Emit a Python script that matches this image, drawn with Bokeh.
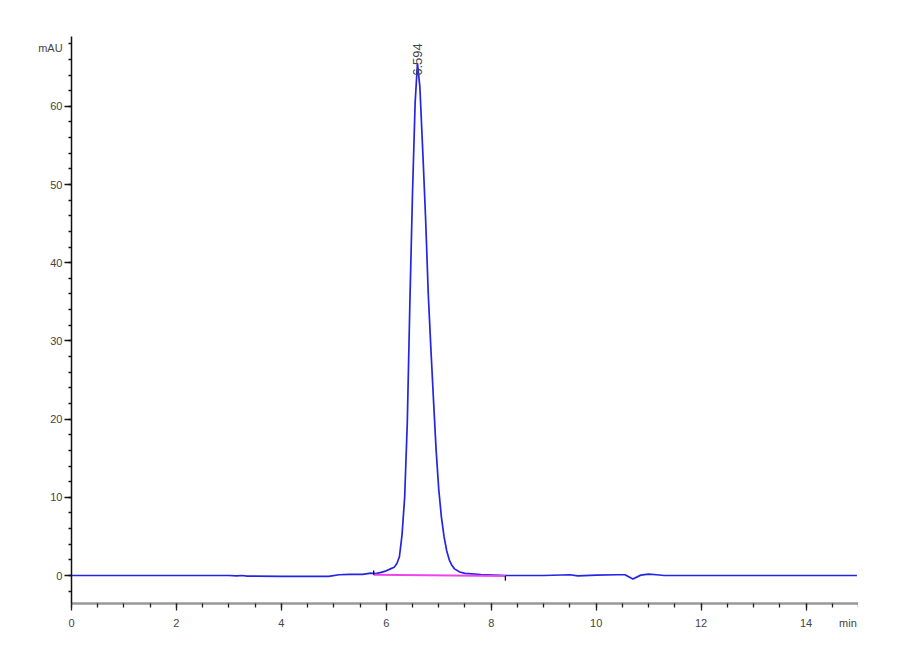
import math
from bokeh.plotting import figure
from bokeh.models import Range1d, SingleIntervalTicker, Label
from bokeh.embed import file_html
from bokeh.resources import INLINE

# chromatogram trace (time in min, signal in mAU)
time_min = [0.0, 1.0, 2.0, 3.0, 3.15, 3.25, 3.35, 4.0, 4.9, 5.1, 5.3, 5.55, 5.7,
            5.8, 5.9, 6.0, 6.08, 6.15, 6.2, 6.25, 6.3, 6.35, 6.4, 6.45, 6.5, 6.55,
            6.594, 6.64, 6.7, 6.75, 6.8, 6.85, 6.9, 6.95, 7.0, 7.05, 7.1, 7.15,
            7.2, 7.25, 7.3, 7.4, 7.5, 7.8, 8.3, 9.0, 9.5, 9.65, 10.0, 10.4, 10.55,
            10.7, 10.85, 11.0, 11.15, 11.3, 12.0, 13.0, 14.0, 14.97]
signal_mau = [0.0, 0.0, 0.0, 0.0, -0.05, 0.0, -0.08, -0.1, -0.12, 0.1, 0.15, 0.15, 0.3,
              0.25, 0.4, 0.6, 0.85, 1.05, 1.5, 2.4, 5.2, 10.0, 19.5, 35.0, 49.0, 60.5,
              65.5, 62.5, 53.5, 45.5, 36.0, 29.0, 22.4, 16.0, 11.0, 7.5, 5.0, 3.2,
              2.0, 1.3, 0.85, 0.45, 0.28, 0.13, 0.0, 0.0, 0.1, -0.05, 0.05, 0.1, 0.1,
              -0.45, 0.05, 0.18, 0.1, 0.0, 0.0, 0.0, 0.0, 0.0]

# integration baseline of the peak
baseline_t = [5.76, 8.27]
baseline_y = [0.1, -0.05]

peak_rt = 6.594
peak_label = "6.594"

x_axis_start, x_axis_end = 0.0, 15.0
y_axis_start, y_axis_end = -3.58, 68.9
x_ticks_interval = 2
y_ticks_interval = 10

p = figure(frame_width=858, frame_height=640, min_border=0,
           x_range=Range1d(-1.353, 15.0), y_range=Range1d(-8.31, 73.53),
           output_backend="svg", toolbar_location=None,
           background_fill_color="white", border_fill_color="white")
p.outline_line_color = None
p.xgrid.visible = False
p.ygrid.visible = False

p.line(time_min, signal_mau, line_color="#2424e4", line_width=1.7)
p.line(baseline_t, baseline_y, line_color="#ee44ee", line_width=2)

# peak start/end markers
p.segment(x0=[baseline_t[0]], y0=[baseline_y[0]], x1=[baseline_t[0]],
          y1=[baseline_y[0] + 0.55], line_color="black", line_width=1.3)
p.segment(x0=[baseline_t[1]], y0=[baseline_y[1]], x1=[baseline_t[1]],
          y1=[baseline_y[1] - 0.6], line_color="black", line_width=1.3)

xa = p.xaxis[0]
xa.fixed_location = y_axis_start
xa.bounds = (x_axis_start, x_axis_end)
xa.ticker = SingleIntervalTicker(interval=x_ticks_interval, num_minor_ticks=4)
xa.axis_line_color = "#999999"
xa.axis_line_width = 2.5
xa.major_tick_line_color = "#222222"
xa.minor_tick_line_color = "#222222"
xa.major_tick_line_width = 1.3
xa.minor_tick_line_width = 1.3
xa.major_tick_out = 7
xa.major_tick_in = 0
xa.minor_tick_out = 4
xa.minor_tick_in = 0
xa.major_label_text_font = "Liberation Sans"
xa.major_label_text_font_size = "11px"
xa.major_label_text_color = "#444444"
xa.major_label_standoff = 8

ya = p.yaxis[0]
ya.fixed_location = x_axis_start
ya.bounds = (y_axis_start, y_axis_end)
ya.ticker = SingleIntervalTicker(interval=y_ticks_interval, num_minor_ticks=5)
ya.axis_line_color = "#111111"
ya.axis_line_width = 1.5
ya.major_tick_line_color = "#111111"
ya.minor_tick_line_color = "#111111"
ya.major_tick_line_width = 1.3
ya.minor_tick_line_width = 1.3
ya.major_tick_out = 7
ya.major_tick_in = 0
ya.minor_tick_out = 3
ya.minor_tick_in = 0
ya.major_label_text_font = "Liberation Sans"
ya.major_label_text_font_size = "11px"
ya.major_label_text_color = "#444444"
ya.major_label_standoff = 2

p.add_layout(Label(x=-0.17, y=67.4, text="mAU", text_align="right",
                   text_baseline="middle", text_font="Liberation Sans",
                   text_font_size="11px", text_color="#444444"))
p.add_layout(Label(x=14.63, y=-6.1, text="min", text_align="left",
                   text_baseline="middle", text_font="Liberation Sans",
                   text_font_size="11px", text_color="#444444"))
p.add_layout(Label(x=peak_rt, y=63.9, text=peak_label, angle=math.pi / 2,
                   text_align="left", text_baseline="middle",
                   text_font="Liberation Sans", text_font_size="13px",
                   text_color="#444444"))

open("out.html", "w").write(file_html(p, INLINE))
